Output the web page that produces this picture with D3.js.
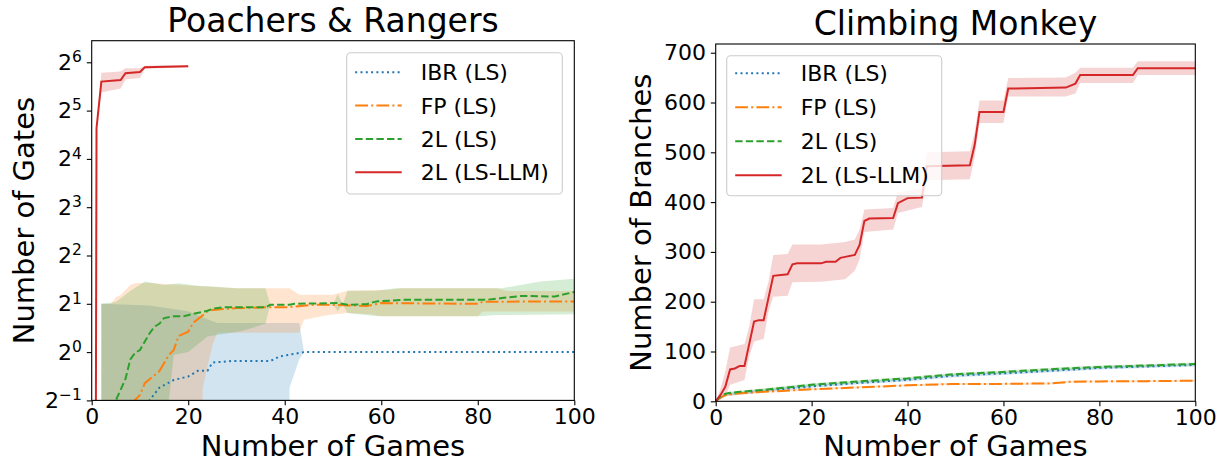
<!DOCTYPE html>
<html>
<head>
<meta charset="utf-8">
<script src="https://cdn.jsdelivr.net/npm/d3@7"></script>
<style>
  body { margin: 0; background: #fff; }
  text { font-family: "DejaVu Sans", sans-serif; }
</style>
</head>
<body>
<svg id="chart" width="1220" height="463"></svg>
<script>
// ---- data: [game, value] ----
const seriesNames = ["IBR (LS)", "FP (LS)", "2L (LS)", "2L (LS-LLM)"];
const gameTicks = [0, 20, 40, 60, 80, 100];
const gateExponents = [-1, 0, 1, 2, 3, 4, 5, 6];
const branchTicks = [0, 100, 200, 300, 400, 500, 600, 700];

// Poachers & Rangers, number of gates (log2 axis)
const gatesIBR = [[0,0],[11,0],[12,0.5],[14,0.6],[17,0.67],[20,0.705],[22,0.765],[24,0.765],[25,0.86],[29,0.88],[37,0.88],[39,0.94],[44,1],[100,1]];
const gatesIBRHi = [[2,2.0],[12,1.95],[20,1.8],[24,1.6],[26,1.52],[43,1.52],[44,1.0],[100,1.0]];
const gatesIBRLo = [[2,0],[40,0],[41,0.6],[43,0.9],[44,1.0],[100,1.0]];

const gatesFP = [[0,0],[7,0],[8,0.47],[10,0.54],[11,0.64],[14,0.76],[16,0.96],[17,1.03],[18,1.26],[20,1.34],[21,1.52],[24,1.79],[25,1.83],[30,1.88],[36,1.9],[40,1.9],[46,1.97],[49,1.97],[57,1.94],[60,2.02],[80,2.0],[81,2.06],[100,2.07]];
const gatesFPHi = [[2,2.0],[4,2.0],[5,2.2],[6,2.27],[8,2.62],[9,2.69],[12,2.7],[20,2.6],[30,2.5],[41,2.5],[43,2.28],[50,2.28],[53,2.41],[62,2.45],[64,2.5],[84,2.5],[86,2.4],[100,2.4]];
const gatesFPLo = [[2,0],[22,0],[23,0.6],[25,1.1],[26,1.32],[43,1.32],[44,1.59],[49,1.7],[53,1.75],[58,1.72],[60,1.67],[80,1.67],[81,1.79],[100,1.79]];

const gates2L = [[0,0],[4,0],[5,0.5],[7,0.68],[8,0.9],[9,0.99],[10,1.03],[12,1.31],[13,1.44],[14,1.5],[15,1.63],[17,1.67],[19,1.67],[21,1.73],[24,1.81],[25,1.86],[27,1.9],[36,1.9],[37,1.97],[41,1.97],[42,2.0],[51,2.02],[53,1.97],[57,1.99],[59,2.07],[65,2.12],[82,2.12],[85,2.17],[89,2.24],[96,2.22],[100,2.37]];
const gates2LHi = [[2,2.0],[5,2.05],[8,2.4],[11,2.75],[15,2.62],[18,2.69],[22,2.59],[25,2.56],[30,2.5],[36,2.5],[37,1.98],[50,1.98],[51,2.3],[52,1.98],[53,2.41],[59,2.41],[63,2.5],[85,2.5],[93,2.75],[100,2.87]];
const gates2LLo = [[2,0],[15,0],[16,0.5],[17,0.96],[20,1.0],[24,1.25],[31,1.35],[36,1.5],[37,1.98],[50,1.98],[51,1.8],[52,1.98],[53,1.75],[59,1.67],[80,1.67],[84,1.7],[100,1.72]];

const gatesLLM = [[0,0],[1,24.9],[2,48.5],[6,49.6],[7,54.7],[10,55.7],[11,59.6],[20,60.5]];
const gatesLLMHi = [[1,26],[2,55],[6,56],[7,58.8],[10,58.8],[11,61],[20,61.5]];
const gatesLLMLo = [[1,24],[2,41.5],[6,44],[7,50],[10,51],[11,58.3],[20,59.5]];

// Climbing Monkey, number of branches
const branchesIBR = [[0,0],[1,8],[2,13],[3,15],[5,17],[10,21],[20,30],[30,37],[40,43],[49,51],[60,56],[73,63],[80,67],[90,70],[100,73]];
const branchesIBRHi = [[0,0],[2,16],[10,24],[20,33],[30,40],[40,46],[49,54],[60,59],[73,66],[80,70],[90,73],[100,76]];
const branchesIBRLo = [[0,0],[2,10],[10,18],[20,27],[30,34],[40,40],[49,48],[60,53],[73,60],[80,64],[90,67],[100,70]];

const branchesFP = [[0,0],[1,8],[2,12],[3,14],[5,16],[10,19],[20,24],[30,28],[40,32],[49,34.7],[60,35],[70,36],[74,39.4],[80,40],[90,40.5],[100,41.4]];
const branchesFPHi = [[0,0],[2,14],[10,21],[20,26],[30,30],[40,34],[49,37],[60,37],[70,38],[74,41.5],[80,42],[90,42.5],[100,43.5]];
const branchesFPLo = [[0,0],[2,10],[10,17],[20,22],[30,26],[40,30],[49,32.5],[60,33],[70,34],[74,37.3],[80,38],[90,38.5],[100,39.3]];

const branches2L = [[0,0],[1,10],[2,15],[3,17],[5,19],[10,23],[20,33],[30,40],[40,46],[49,54],[60,59],[73,66],[80,69],[90,72],[100,75]];
const branches2LHi = [[0,0],[2,18],[10,26],[20,36],[30,43],[40,49],[49,57],[60,62],[73,69],[80,72],[90,75],[100,78]];
const branches2LLo = [[0,0],[2,12],[10,20],[20,30],[30,37],[40,43],[49,51],[60,56],[73,63],[80,66],[90,69],[100,72]];

const branchesLLM = [[0,0],[1,12.7],[2,29],[3,64],[4,66],[5,71],[6,71],[8,160],[9,163],[10,163],[12,252],[15,255],[16,275],[17,277],[22,277],[23,280],[25,280],[26,288],[27,290],[29,294],[30,314],[31,362],[32,367],[37,368],[38,398],[40,408],[43,409],[44,472],[53,474],[54,515],[55,581],[60,581],[61,628],[73,630],[75,638],[76,655],[87,655],[88,669],[100,669]];
const branchesLLMHi = [[0,0],[1,25],[2,60],[3,108],[6,115],[7,150],[8,205],[10,205],[11,240],[12,294],[15,296],[16,315],[22,315],[27,320],[29,325],[30,345],[31,385],[37,388],[38,420],[43,428],[44,500],[53,502],[54,540],[55,604],[60,604],[61,649],[73,650],[75,660],[76,670],[87,670],[88,683],[100,683]];
const branchesLLMLo = [[0,0],[1,3],[2,10],[3,33],[6,43],[7,90],[8,120],[10,125],[11,180],[12,210],[15,212],[16,239],[22,240],[27,245],[29,262],[30,285],[31,340],[37,345],[38,378],[43,390],[44,444],[53,446],[54,490],[55,559],[60,559],[61,612],[73,612],[75,618],[76,639],[87,639],[88,655],[100,655]];

// ---- styling ----
const colors = ["#1f77b4", "#ff7f0e", "#2ca02c", "#d62728"];
const dashes = ["2,3.3", "12.8,3.2,2,3.2", "7.4,3.2", null];
const lw = 2;
const tickFont = 22, labelFont = 29, titleFont = 33, legendFont = 22;

const svg = d3.select("#chart");

function drawPanel(p) {
  const x = d3.scaleLinear().domain([0, 100]).range([p.left, p.right]);
  const y = p.log
    ? d3.scaleLog().base(2).domain(p.yDomain).range([p.bottom, p.top])
    : d3.scaleLinear().domain(p.yDomain).range([p.bottom, p.top]);
  // zero values on a log axis get pushed far below the frame, like matplotlib's clipping
  const yv = v => p.log ? y(v <= 0 ? 1e-12 : v) : y(v);

  const g = svg.append("g");
  g.append("clipPath").attr("id", p.id)
    .append("rect")
    .attr("x", p.left).attr("y", p.top)
    .attr("width", p.right - p.left).attr("height", p.bottom - p.top);

  const plot = g.append("g").attr("clip-path", `url(#${p.id})`);
  const line = d3.line().x(d => x(d[0])).y(d => yv(d[1]));

  // shaded spread first, lines on top
  p.bands.forEach((b, i) => {
    plot.append("path")
      .attr("d", line(b[0].concat(b[1].slice().reverse())) + "Z")
      .attr("fill", colors[i])
      .attr("fill-opacity", 0.2)
      .attr("stroke", "none");
  });
  p.lines.forEach((s, i) => {
    plot.append("path")
      .attr("d", line(s))
      .attr("fill", "none")
      .attr("stroke", colors[i])
      .attr("stroke-width", lw)
      .attr("stroke-dasharray", dashes[i]);
  });

  // axes
  const xAxis = g.append("g")
    .attr("transform", `translate(0,${p.bottom})`)
    .call(d3.axisBottom(x).tickValues(gameTicks).tickSize(4.9).tickPadding(3));
  const yAxis = g.append("g")
    .attr("transform", `translate(${p.left},0)`)
    .call(d3.axisLeft(y).tickValues(p.yTicks).tickSize(4.9).tickPadding(4.9)
      .tickFormat(p.log ? () => "" : d3.format("d")));
  [xAxis, yAxis].forEach(a => {
    a.select(".domain").remove();
    a.selectAll("line").attr("stroke", "#000").attr("stroke-width", 1.1);
    a.selectAll("text").attr("fill", "#000").style("font-size", tickFont + "px")
      .style("font-family", '"DejaVu Sans", sans-serif');
  });
  if (p.log) {
    yAxis.selectAll(".tick text").each(function(d) {
      const t = d3.select(this);
      const e = Math.round(Math.log2(d));
      t.append("tspan").text("2");
      t.append("tspan").attr("dy", "-0.5em").style("font-size", "15.5px")
        .text(e < 0 ? "\u2212" + (-e) : String(e));
    });
  }

  // frame
  g.append("rect")
    .attr("x", p.left).attr("y", p.top)
    .attr("width", p.right - p.left).attr("height", p.bottom - p.top)
    .attr("fill", "none").attr("stroke", "#000").attr("stroke-width", 1.1);

  // titles and labels
  const cx = (p.left + p.right) / 2;
  g.append("text").attr("x", cx).attr("y", p.top - 9)
    .attr("text-anchor", "middle").style("font-size", titleFont + "px").text(p.title);
  g.append("text").attr("x", cx).attr("y", 456)
    .attr("text-anchor", "middle").style("font-size", labelFont + "px").text("Number of Games");
  g.append("text")
    .attr("transform", `translate(${p.yLabelX},${(p.top + p.bottom) / 2}) rotate(-90)`)
    .attr("text-anchor", "middle").style("font-size", labelFont + "px").text(p.yLabel);

  // legend
  const L = p.legend;
  const lg = g.append("g");
  lg.append("rect")
    .attr("x", L.x).attr("y", L.y).attr("width", L.w).attr("height", L.h)
    .attr("rx", 4).attr("fill", "#fff").attr("fill-opacity", 0.8)
    .attr("stroke", "#ccc").attr("stroke-width", 1.1);
  seriesNames.forEach((name, i) => {
    const ry = L.y + L.first + i * L.step;
    lg.append("line")
      .attr("x1", L.x + 8.5).attr("x2", L.x + 55)
      .attr("y1", ry).attr("y2", ry)
      .attr("stroke", colors[i]).attr("stroke-width", lw)
      .attr("stroke-dasharray", dashes[i]);
    lg.append("text").attr("x", L.x + 74).attr("y", ry).attr("dy", "0.36em")
      .style("font-size", legendFont + "px").text(name);
  });
}

drawPanel({
  id: "clipLeft", title: "Poachers & Rangers", yLabel: "Number of Gates",
  left: 91.7, right: 574.3, top: 40.7, bottom: 400.4, yLabelX: 34,
  log: true, yDomain: [0.5, Math.pow(2, 6.447)], yTicks: gateExponents.map(e => Math.pow(2, e)),
  lines: [gatesIBR, gatesFP, gates2L, gatesLLM],
  bands: [[gatesIBRHi, gatesIBRLo], [gatesFPHi, gatesFPLo], [gates2LHi, gates2LLo], [gatesLLMHi, gatesLLMLo]],
  legend: { x: 346.7, y: 52.7, w: 215.6, h: 141.3, first: 19.6, step: 33.3 }
});

drawPanel({
  id: "clipRight", title: "Climbing Monkey", yLabel: "Number of Branches",
  left: 715.7, right: 1195.3, top: 44, bottom: 401.3, yLabelX: 651,
  log: false, yDomain: [0, 717.5], yTicks: branchTicks,
  lines: [branchesIBR, branchesFP, branches2L, branchesLLM],
  bands: [[branchesIBRHi, branchesIBRLo], [branchesFPHi, branchesFPLo], [branches2LHi, branches2LLo], [branchesLLMHi, branchesLLMLo]],
  legend: { x: 726.7, y: 55.7, w: 215, h: 140, first: 17.6, step: 34 }
});
</script>
</body>
</html>
